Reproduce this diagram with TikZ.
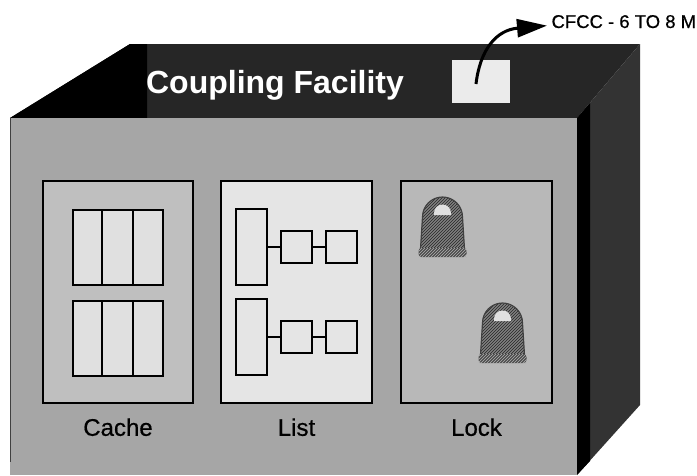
\documentclass[tikz,border=0pt]{standalone}
\usepackage{fontspec}
\setmainfont{Liberation Sans}
\newfontfamily\heavyfont[FakeBold=0.6]{Liberation Sans}
\usetikzlibrary{patterns,arrows.meta}
\tikzset{bigarrow/.style = {-{Triangle[length=30pt,width=18pt]}}}
\tikzset{part/.style = {draw, line width = 1.6pt, inner sep = 0}}
\tikzset{lbl/.style = {font=\heavyfont\fontsize{24}{24}\selectfont, anchor = base}}
\tikzset{padlock/.pic = {
    \fill[black!50] (-22,-8) -- (-20,-40) arc[start angle=180, end angle=360, radius=20] -- (22,-8) -- cycle;
    \fill[pattern=north east lines, pattern color=black!85] (-22,-8) -- (-20,-40) arc[start angle=180, end angle=360, radius=20] -- (22,-8) -- cycle;
    \draw[black!75, line width=1.2pt] (-22,-8) -- (-20,-40) arc[start angle=180, end angle=360, radius=20] -- (22,-8);
    \fill[black!12] (-8.5,-42) -- (-8.5,-44) arc[start angle=180, end angle=360, radius=8.5] -- (8.5,-42) -- cycle;
    \fill[black!70, rounded corners=3pt] (-24,-9) rectangle (24,0);
    \fill[pattern=north east lines, pattern color=black!30] (-24,-9) rectangle (24,0);
}}

\begin{document}
\begin{tikzpicture}[x=1pt, y=-1pt]
    \useasboundingbox (0,0) rectangle (697,475);

    % Box faces
    \fill[black!85] (10,118) -- (130,44) -- (640,44) -- (577,118) -- cycle;
    \fill[black] (10,118) -- (130,44) -- (147,44) -- (147,118) -- cycle;
    \fill[black!80] (577,118) -- (640,44) -- (640,405) -- (577,475) -- cycle;
    \fill[black] (577,118) -- (590,103) -- (590,461) -- (577,475) -- cycle;
    \fill[black!35] (10,118) rectangle (577,475);
    \draw[black!75, line width=1pt] (10,118) -- (10,462);

    \node[text=white, font=\bfseries\fontsize{32}{32}\selectfont, anchor = base] (title) at (275,93) {Coupling Facility};
    \node[fill=black!8, minimum width=58pt, minimum height=43pt, inner sep=0] (cfccbox) at (481,81) {};
    \node[font=\heavyfont\fontsize{18.5}{18.5}\selectfont, anchor = base west] (cfcc) at (548,28) {CFCC - 6 TO 8 M};
    \coordinate (cfccstart) at (476,84);
    \draw[bigarrow, line width=3pt] (cfccstart) .. controls (480,50) and (496,30) .. ([shift={(-1,4)}]cfcc.west);

    % Structures
    \node[part, fill=black!25, minimum width=150pt, minimum height=222pt] (cache) at (118,292) {};
    \node[part, fill=black!10, minimum width=151pt, minimum height=222pt] (list) at (296.5,292) {};
    \node[part, fill=black!28, minimum width=151pt, minimum height=222pt] (lock) at (476.5,292) {};

    \node[lbl] (cachename) at ([yshift=-32pt]cache.south) {Cache};
    \node[lbl] (listname) at ([yshift=-32pt]list.south) {List};
    \node[lbl] (lockname) at ([yshift=-32pt]lock.south) {Lock};

    % Cache entries
    \foreach \y in {210, 301} {
        \draw[part, fill=black!12] (73,\y) rectangle (163,\y+75);
        \draw[line width=1.6pt] (102,\y) -- (102,\y+75);
        \draw[line width=1.6pt] (133,\y) -- (133,\y+75);
    }

    % List entries
    \foreach \row/\y in {1/247, 2/337} {
        \node[part, fill=black!10, minimum width=31pt, minimum height=76pt] (head\row) at (251.5,\y) {};
        \node[part, fill=black!10, minimum width=31pt, minimum height=32pt] (cella\row) at (296.5,\y) {};
        \node[part, fill=black!10, minimum width=31pt, minimum height=32pt] (cellb\row) at (341.5,\y) {};
        \draw[line width=1.6pt] (head\row) -- (cella\row) -- (cellb\row);
    }

    % Locks
    \pic at (442.5,257) {padlock};
    \pic at (502.5,363) {padlock};
\end{tikzpicture}
\end{document}
